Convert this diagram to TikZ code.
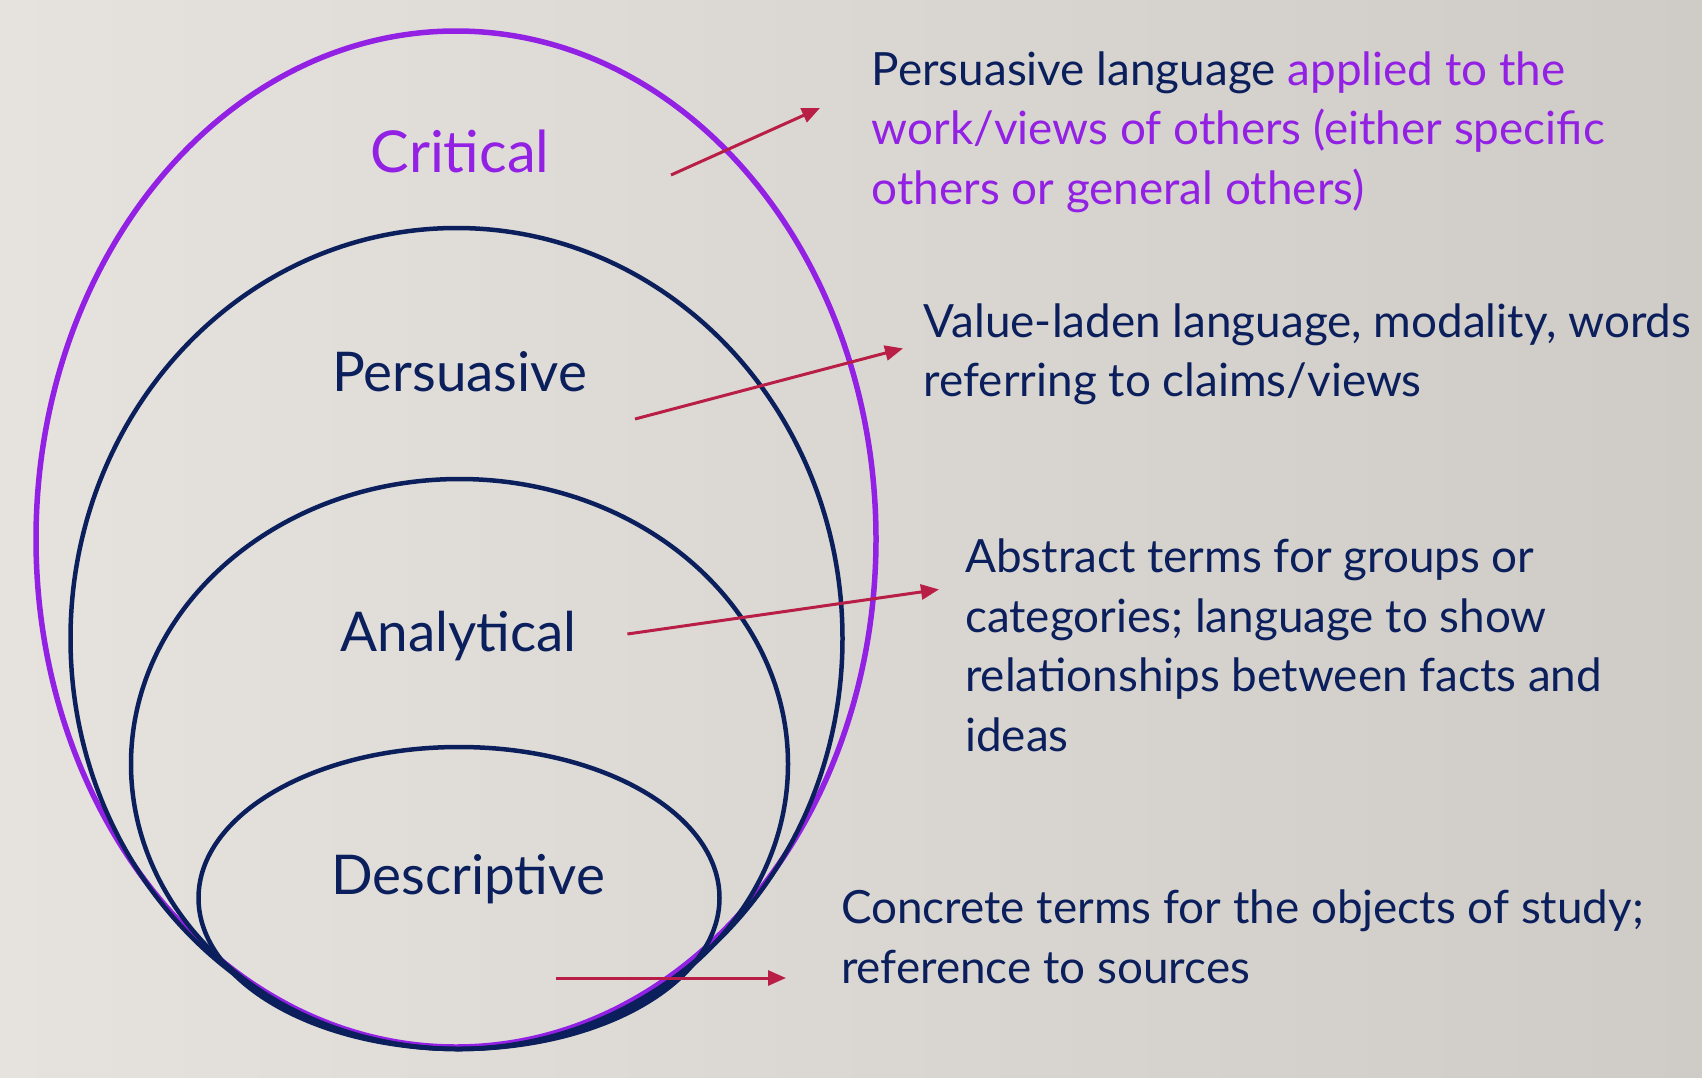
\documentclass[tikz,border=0pt]{standalone}
\usepackage{fontspec}
\setmainfont{Lato}
\usetikzlibrary{arrows.meta}

\definecolor{critpurple}{HTML}{9321E4}
\definecolor{ringnavy}{HTML}{0B1F5C}
\definecolor{pointred}{HTML}{B81E46}
\definecolor{bgleft}{HTML}{E6E3DF}
\definecolor{bgright}{HTML}{CFCCC7}

\tikzset{
  ring/.style={line width=4.5bp, draw=ringnavy},
  level/.style={text=ringnavy, inner sep=0pt, anchor=base, font=\fontsize{55}{60}\selectfont},
  note/.style={text=ringnavy, inner sep=0pt, anchor=west, align=left,
    font=\fontsize{46}{60}\selectfont,
    execute at begin node=\strut, execute at end node=\strut},
  pointer/.style={draw=pointred, line width=3bp, -{Triangle[length=18bp, width=15bp]}}
}

\begin{document}
\begin{tikzpicture}[x=1bp, y=-1bp]
    % Background
    \useasboundingbox (0,0) rectangle (1702,1077);
    \shade[left color=bgleft, right color=bgright] (0,0) rectangle (1702,1077);

    % Rings
    \draw[ring, draw=critpurple, line width=5.5bp] (456,539) ellipse [x radius=420, y radius=508];
    \draw[ring] (456.5,638.5) ellipse [x radius=386, y radius=410.5];
    \draw[ring] (459.5,764) ellipse [x radius=328.5, y radius=285];
    \draw[ring] (459,898) ellipse [x radius=260.5, y radius=151];

    % Ring labels
    \node[level, text=critpurple, font=\fontsize{58}{60}\selectfont] (critical) at (460,172) {Critical};
    \node[level] (persuasive) at (459.7,391) {Persuasive};
    \node[level] (analytical) at (458.6,651) {Analytical};
    \node[level] (descriptive) at (468,894) {Descriptive};

    % Notes
    \node[note] (critnote) at (871.6,137) {Persuasive language \textcolor{critpurple}{applied to the}\\
      \textcolor{critpurple}{work/views of others (either specific}\\
      \textcolor{critpurple}{others or general others)}};
    \node[note] (persnote) at (923.7,359) {Value-laden language, modality, words\\
      referring to claims/views};
    \node[note] (analnote) at (965,654) {Abstract terms for groups or\\
      categories; language to show\\
      relationships between facts and\\
      ideas};
    \node[note] (descnote) at (841,945.5) {Concrete terms for the objects of study;\\
      reference to sources};

    % Arrows
    \coordinate (crittail) at (671,175);
    \coordinate (crittip) at (820,108);
    \coordinate (perstail) at (635,419);
    \coordinate (perstip) at (903,348.4);
    \coordinate (analtail) at (627.4,634);
    \coordinate (analtip) at (939,589.4);
    \coordinate (desctail) at (555.8,978);
    \coordinate (desctip) at (786,978);
    \draw[pointer] (crittail) -- (crittip);
    \draw[pointer] (perstail) -- (perstip);
    \draw[pointer] (analtail) -- (analtip);
    \draw[pointer] (desctail) -- (desctip);
\end{tikzpicture}
\end{document}
